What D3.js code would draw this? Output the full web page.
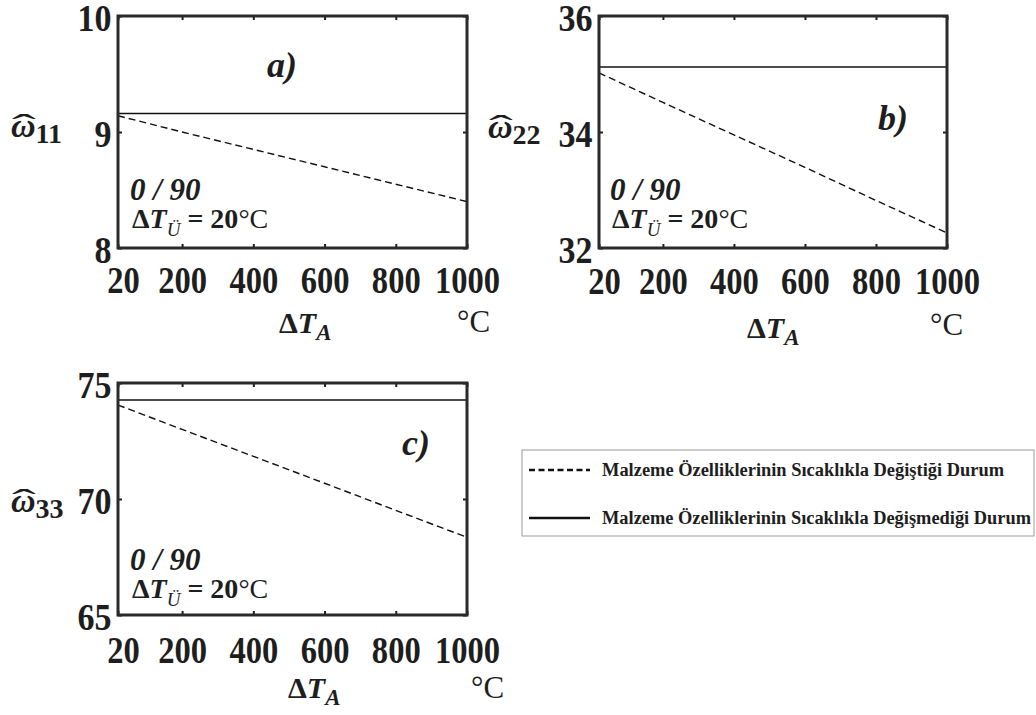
<!DOCTYPE html>
<html>
<head>
<meta charset="utf-8">
<script src="https://cdn.jsdelivr.net/npm/d3@7"></script>
<style>
  body { margin: 0; background: #fff; }
  svg text { font-family: "Liberation Serif", "Times New Roman", serif; }
</style>
</head>
<body>
<svg id="chart" width="1036" height="715"></svg>
<script>
// temperature difference axis (°C)
var deltaT = [20, 200, 400, 600, 800, 1000];
var xTickValues = [20, 200, 400, 600, 800, 1000];

// omega_11 : dashed = properties change with temperature, solid = constant properties
var w11Changing = [9.14, 9.00, 8.85, 8.70, 8.55, 8.40];
var w11Constant = [9.16, 9.16, 9.16, 9.16, 9.16, 9.16];
var w11Ticks = [8, 9, 10];

var w22Changing = [35.02, 34.51, 33.95, 33.39, 32.82, 32.26];
var w22Constant = [35.12, 35.12, 35.12, 35.12, 35.12, 35.12];
var w22Ticks = [32, 34, 36];

var w33Changing = [74.05, 73.00, 71.84, 70.68, 69.51, 68.35];
var w33Constant = [74.27, 74.27, 74.27, 74.27, 74.27, 74.27];
var w33Ticks = [65, 70, 75];

var legendLabels = [
    "Malzeme Özelliklerinin Sıcaklıkla Değiştiği Durum",
    "Malzeme Özelliklerinin Sıcaklıkla Değişmediği Durum"
];

var svg = d3.select("#chart");
var INK = "#1e1e1e";
var SERIF = "'Liberation Serif', 'Times New Roman', serif";

/**
 * Draw one small panel
 */
function drawPanel(p) {
    var g = svg.append("g").attr("transform", "translate(" + p.left + "," + p.top + ")");

    var xRange = d3.scaleLinear().domain([20, 1000]).range([0, p.width]);
    var yRange = d3.scaleLinear().domain(p.yDomain).range([p.height, 0]);

    // bottom axis: inside ticks + labels
    var xb = g.append("g").attr("transform", "translate(0," + p.height + ")")
        .call(d3.axisBottom(xRange).tickValues(xTickValues).tickSize(-4).tickFormat(d3.format("d")));
    var xt = g.append("g")
        .call(d3.axisTop(xRange).tickValues(xTickValues).tickSize(-4).tickFormat(""));
    var yl = g.append("g")
        .call(d3.axisLeft(yRange).tickValues(p.yTicks).tickSize(-4).tickFormat(d3.format("d")));
    var yr = g.append("g").attr("transform", "translate(" + p.width + ",0)")
        .call(d3.axisRight(yRange).tickValues(p.yTicks).tickSize(-4).tickFormat(""));

    [xb, xt, yl, yr].forEach(function (a) {
        a.attr("font-family", SERIF);
        a.select(".domain").remove();
        a.selectAll(".tick line").attr("stroke", INK).attr("stroke-width", 2);
    });

    xb.selectAll(".tick text")
        .attr("y", p.xLabelDy).attr("dy", 0)
        .attr("fill", INK)
        .style("font-size", "37px").style("font-weight", "bold")
        .attr("transform", function (d, i) { return "translate(" + (i === 0 ? 5 : 0) + ",0) scale(0.88,1)"; });

    yl.selectAll(".tick text")
        .attr("x", -7).attr("dy", "0.4em")
        .attr("fill", INK)
        .style("font-size", "37px").style("font-weight", "bold")
        .attr("transform", "scale(0.92,1)");

    // curves
    var lineFunc = d3.line()
        .x(function (d) { return xRange(d[0]); })
        .y(function (d) { return yRange(d[1]); });

    g.append("path")
        .datum(d3.zip(deltaT, p.constant))
        .attr("d", lineFunc)
        .attr("fill", "none").attr("stroke", "#111").attr("stroke-width", 1.6);

    g.append("path")
        .datum(d3.zip(deltaT, p.changing))
        .attr("d", lineFunc)
        .attr("fill", "none").attr("stroke", "#111").attr("stroke-width", 1.4)
        .attr("stroke-dasharray", "7,4");

    // frame
    g.append("rect")
        .attr("x", 0).attr("y", 0)
        .attr("width", p.width).attr("height", p.height)
        .attr("fill", "none").attr("stroke", "#2a2a2a").attr("stroke-width", 3);

    // panel letter
    svg.append("text")
        .attr("x", p.letter[0]).attr("y", p.letter[1])
        .attr("fill", INK)
        .style("font-size", "36px").style("font-weight", "bold").style("font-style", "italic")
        .text(p.letter[2]);

    // laminate annotation
    svg.append("text")
        .attr("x", p.note[0]).attr("y", p.note[1])
        .attr("fill", INK)
        .style("font-size", "31px").style("font-weight", "bold").style("font-style", "italic")
        .text("0 / 90");

    var t = svg.append("text")
        .attr("x", p.note[0] + 2).attr("y", p.note[1] + 28)
        .attr("fill", INK)
        .style("font-size", "28px");
    t.append("tspan").style("font-weight", "bold").text("Δ");
    t.append("tspan").style("font-weight", "bold").style("font-style", "italic").text("T");
    t.append("tspan").attr("dy", 8).style("font-size", "19px").style("font-style", "italic").text("Ü");
    t.append("tspan").attr("dy", -8).style("font-weight", "bold").text(" = 20");
    t.append("tspan").text("°C");

    // y axis label: omega hat with subscript
    var ylab = svg.append("text")
        .attr("x", p.ylab[0]).attr("y", p.ylab[1])
        .attr("fill", INK)
        .style("font-size", "34px");
    ylab.append("tspan").style("font-weight", "bold").style("font-style", "italic").text("ω");
    ylab.append("tspan").attr("dy", 6).style("font-size", "28px").style("font-weight", "bold").text(p.sub);
    svg.append("text")
        .attr("x", 0).attr("y", 0)
        .attr("transform", "translate(" + (p.ylab[0] + 13) + "," + (p.ylab[1] - 1) + ") scale(2.3,1)")
        .attr("text-anchor", "middle")
        .attr("fill", INK)
        .style("font-size", "31px")
        .text("ˆ");

    // x axis label and unit
    var xlab = svg.append("text")
        .attr("x", p.xlab[0]).attr("y", p.xlab[1])
        .attr("fill", INK)
        .style("font-size", "30px");
    xlab.append("tspan").style("font-weight", "bold").text("Δ");
    xlab.append("tspan").style("font-weight", "bold").style("font-style", "italic").text("T");
    xlab.append("tspan").attr("dy", 7).style("font-size", "23px").style("font-weight", "bold").style("font-style", "italic").text("A");

    svg.append("text")
        .attr("x", p.unit[0]).attr("y", p.unit[1])
        .attr("fill", INK)
        .style("font-size", "31px")
        .text("°C");
}

drawPanel({
    left: 118, top: 16, width: 349, height: 232,
    yDomain: [8, 10], yTicks: w11Ticks,
    changing: w11Changing, constant: w11Constant,
    xLabelDy: 45,
    letter: [267, 77, "a)"], note: [130, 200],
    ylab: [11, 137], sub: "11",
    xlab: [279, 333], unit: [457, 332]
});

drawPanel({
    left: 599, top: 16, width: 348, height: 232,
    yDomain: [32, 36], yTicks: w22Ticks,
    changing: w22Changing, constant: w22Constant,
    xLabelDy: 46,
    letter: [878, 130, "b)"], note: [610, 200],
    ylab: [488, 138], sub: "22",
    xlab: [747, 338], unit: [930, 335]
});

drawPanel({
    left: 118, top: 383, width: 349, height: 232,
    yDomain: [65, 75], yTicks: w33Ticks,
    changing: w33Changing, constant: w33Constant,
    xLabelDy: 48,
    letter: [402, 455, "c)"], note: [130, 570],
    ylab: [11, 512], sub: "33",
    xlab: [288, 698], unit: [471, 698]
});

// legend
var legend = svg.append("g");
legend.append("rect")
    .attr("x", 522).attr("y", 450).attr("width", 512).attr("height", 86)
    .attr("fill", "#fff").attr("stroke", "#9a9a9a").attr("stroke-width", 1);

var legendRows = [
    { y: 470, dash: "6,3.5", width: 402 },
    { y: 518, dash: null, width: 429 }
];
legendRows.forEach(function (r, i) {
    legend.append("line")
        .attr("x1", 529).attr("x2", 590).attr("y1", r.y).attr("y2", r.y)
        .attr("stroke", "#111").attr("stroke-width", 2.5)
        .attr("stroke-dasharray", r.dash);
    legend.append("text")
        .attr("x", 602).attr("y", r.y + 6)
        .attr("textLength", r.width).attr("lengthAdjust", "spacingAndGlyphs")
        .attr("fill", INK)
        .style("font-size", "18px").style("font-weight", "bold")
        .text(legendLabels[i]);
});

svg.selectAll("text").style("font-family", SERIF);
</script>
</body>
</html>
